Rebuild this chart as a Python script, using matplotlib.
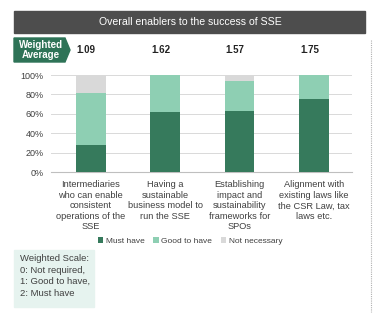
import matplotlib.pyplot as plt
from matplotlib.patches import Rectangle, Polygon
from matplotlib.transforms import blended_transform_factory
from matplotlib.ticker import PercentFormatter
from matplotlib.lines import Line2D

plt.rcParams['font.family'] = ['Liberation Sans', 'DejaVu Sans']

categories = [
    "Intermediaries\nwho can enable\nconsistent\noperations of the\nSSE",
    "Having a\nsustainable\nbusiness model to\nrun the SSE",
    "Establishing\nimpact and\nsustainability\nframeworks for\nSPOs",
    "Alignment with\nexisting laws like\nthe CSR Law, tax\nlaws etc.",
]
must_have = [28, 62, 63, 75]
good_to_have = [53, 38, 31, 25]
not_necessary = [19, 0, 6, 0]
weighted_avg = ["1.09", "1.62", "1.57", "1.75"]

C_MUST = "#367a5c"
C_GOOD = "#8ecfb3"
C_NOT = "#d9d9d9"

W, H = 377, 322
fig = plt.figure(figsize=(W / 100, H / 100), dpi=100)


def fx(px):
    return px / W


def fy(py):
    return 1 - py / H


ax = fig.add_axes([fx(50.7), fy(172), fx(351.7) - fx(50.7), fy(75) - fy(172)])
x = range(len(categories))
bw = 0.40
ax.bar(x, must_have, bw, color=C_MUST, label="Must have", zorder=3)
ax.bar(x, good_to_have, bw, bottom=must_have, color=C_GOOD, label="Good to have", zorder=3)
bottoms = [m + g for m, g in zip(must_have, good_to_have)]
ax.bar(x, not_necessary, bw, bottom=bottoms, color=C_NOT, label="Not necessary", zorder=3)

ax.set_xlim(-0.538, 3.508)
ax.set_ylim(0, 100)
ax.set_yticks(range(0, 101, 20))
ax.yaxis.set_major_formatter(PercentFormatter(decimals=0))
ax.grid(axis="y", color="#d9d9d9", linewidth=0.7, zorder=0)
for s in ["top", "right", "left"]:
    ax.spines[s].set_visible(False)
ax.spines["bottom"].set_color("#bfbfbf")
ax.spines["bottom"].set_linewidth(0.8)
ax.tick_params(axis="y", length=0, labelsize=6.5, colors="#404040", pad=5)
ax.tick_params(axis="x", length=0, labelsize=6.7, colors="#404040", pad=6)
ax.set_xticks(list(x))
ax.set_xticklabels(categories, color="#404040", linespacing=1.22)

# title bar
fig.patches.append(Rectangle((fx(14), fy(33)), fx(365) - fx(14), fy(11) - fy(33),
                             transform=fig.transFigure, color="#4d4d4d", zorder=0))
fig.text(fx(190), fy(22), "Overall enablers to the success of SSE", color="white",
         fontsize=7.6, ha="center", va="center")

# weighted average label
fig.patches.append(Polygon([(fx(14), fy(38)), (fx(65), fy(38)), (fx(70), fy(50)),
                            (fx(65), fy(62)), (fx(14), fy(62))],
                           closed=True, transform=fig.transFigure, color="#2e7357"))
fig.text(fx(41), fy(50), "Weighted\nAverage", color="white", fontsize=7,
         fontweight="bold", ha="center", va="center", linespacing=1.05)
trans = blended_transform_factory(ax.transData, fig.transFigure)
for i, v in enumerate(weighted_avg):
    ax.text(i - 0.06, fy(50), v, transform=trans, fontsize=7, fontweight="bold",
            ha="center", va="center", color="#222222")

fig.legend(loc="center", bbox_to_anchor=(fx(190), fy(241)), ncol=3, frameon=False,
           fontsize=6, handlelength=0.7, handleheight=0.7, handletextpad=0.3,
           columnspacing=1.0, labelcolor="#404040")

# weighted scale box
fig.patches.append(Rectangle((fx(14), fy(307)), fx(94) - fx(14), fy(250) - fy(307),
                             transform=fig.transFigure, color="#e6f3ef", zorder=0))
fig.text(fx(20), fy(276), "Weighted Scale:\n0: Not required,\n1: Good to have,\n2: Must have",
         fontsize=6.8, ha="left", va="center", color="#404040", linespacing=1.35)

# dotted right border
fig.add_artist(Line2D([fx(371), fx(371)], [fy(40), fy(312)], transform=fig.transFigure,
                      color="#b0b0b0", linewidth=0.8, linestyle=(0, (1, 1))))

fig.savefig("out.png", dpi=100)
